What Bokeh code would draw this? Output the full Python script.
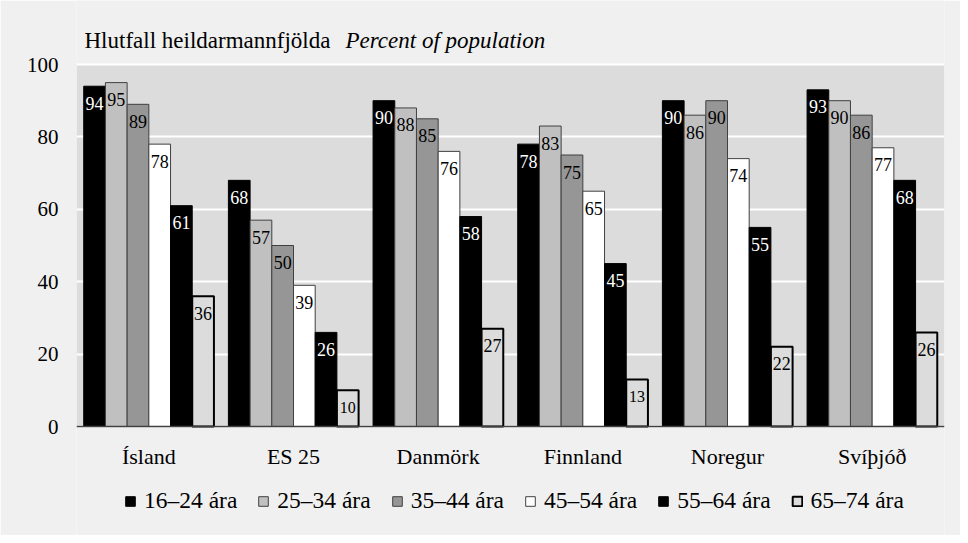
from bokeh.plotting import figure
from bokeh.models import (ColumnDataSource, FactorRange, Legend, LegendItem, Label,
                          BoxAnnotation, Range1d)
from bokeh.transform import dodge
from bokeh.core.properties import value
from bokeh.embed import file_html
from bokeh.resources import INLINE

countries = ["Ísland", "ES 25", "Danmörk", "Finnland", "Noregur", "Svíþjóð"]
groups = ["16–24 ára", "25–34 ára", "35–44 ára", "45–54 ára", "55–64 ára", "65–74 ára"]
v16_24 = [94, 68, 90, 78, 90, 93]
v25_34 = [95, 57, 88, 83, 86, 90]
v35_44 = [89, 50, 85, 75, 90, 86]
v45_54 = [78, 39, 76, 65, 74, 77]
v55_64 = [61, 26, 58, 45, 55, 68]
v65_74 = [36, 10, 27, 13, 22, 26]
series = [v16_24, v25_34, v35_44, v45_54, v55_64, v65_74]
y_ticks = [0, 20, 40, 60, 80, 100]
title_main = "Hlutfall heildarmannfjölda"
title_en = "Percent of population"

fills = ["#000000", "#c0c0c0", "#969696", "#ffffff", "#000000", "#dcdcdc"]
lines = ["#000000", "#404040", "#404040", "#404040", "#000000", "#000000"]
lwidths = [1, 1, 1, 1, 1, 2]
label_colors = ["white", "black", "black", "black", "white", "black"]

FONT = "Liberation Serif"
BG = "#f0f0f0"
PLOT_BG = "#dcdcdc"

# layout (pixels): plot area from y=64 (value 100) to y=426 (value 0) in a 535px tall figure
W, H = 960, 535
TOP_PX, ZERO_PX = 64, 426
ppu = (ZERO_PX - TOP_PX) / (y_ticks[-1] - y_ticks[0])
y_lo = y_ticks[0] - (H - ZERO_PX) / ppu
y_hi = y_ticks[-1] + TOP_PX / ppu

p = figure(x_range=FactorRange(*countries), y_range=Range1d(y_lo, y_hi),
           width=W, height=H, output_backend="svg", toolbar_location=None,
           min_border_left=76, min_border_right=16, min_border_top=0, min_border_bottom=0)
p.background_fill_color = BG
p.border_fill_color = BG
p.outline_line_color = None

# grey plot area behind grid lines
p.add_layout(BoxAnnotation(bottom=y_ticks[0], top=y_ticks[-1], fill_color=PLOT_BG,
                           fill_alpha=1, line_color=None, level="image"))

n = len(groups)
bw = 0.9 / n
items = []
for i, (g, vals) in enumerate(zip(groups, series)):
    off = -0.45 + bw * (i + 0.5)
    src = ColumnDataSource(dict(
        x=countries, top=vals, lbl=[str(v) for v in vals],
        fs=["16px" if v < 15 else "18px" for v in vals]))
    r = p.vbar(x=dodge("x", off, range=p.x_range), top="top", bottom=0, width=bw, source=src,
               fill_color=fills[i], line_color=lines[i], line_width=lwidths[i])
    p.text(x=dodge("x", off, range=p.x_range), y="top", text="lbl", source=src,
           text_align="center", text_baseline="middle", y_offset=17,
           text_font=value(FONT), text_font_size="fs", text_color=label_colors[i])
    items.append(LegendItem(label=g, renderers=[r]))

p.xgrid.grid_line_color = None
p.ygrid.grid_line_color = "white"
p.ygrid.grid_line_width = 2
p.yaxis.ticker = y_ticks
p.yaxis.axis_line_color = None
p.yaxis.major_tick_line_color = None
p.yaxis.minor_tick_line_color = None
p.yaxis.major_tick_out = 0
p.yaxis.major_tick_in = 0
p.yaxis.major_label_standoff = 18
p.yaxis.major_label_text_font_size = "21px"

p.xaxis.fixed_location = 0
p.xaxis.major_tick_line_color = None
p.xaxis.major_tick_out = 0
p.xaxis.major_tick_in = 0
p.xaxis.axis_line_color = "#404040"
p.xaxis.axis_line_width = 1.5
p.xaxis.major_label_standoff = 17
p.xaxis.major_label_text_font_size = "22px"
for ax in (p.xaxis, p.yaxis):
    ax.major_label_text_font = FONT
    ax.major_label_text_color = "black"

legend = Legend(items=items, orientation="horizontal", location=(48, 21),
                label_text_font=FONT, label_text_font_size="23.5px", label_text_color="black",
                glyph_width=12, glyph_height=12, label_standoff=8, spacing=20,
                background_fill_alpha=0, border_line_color=None, margin=0, padding=0)
p.add_layout(legend, "center")

p.add_layout(Label(x=0, y=y_ticks[-1], x_offset=8, y_offset=24, text=title_main,
                   text_font=FONT, text_font_size="23px", text_color="black",
                   text_baseline="alphabetic"))
p.add_layout(Label(x=0, y=y_ticks[-1], x_offset=269, y_offset=24, text=title_en,
                   text_font=FONT, text_font_size="23px", text_font_style="italic",
                   text_color="black", text_baseline="alphabetic"))

open("out.html", "w").write(file_html(p, INLINE))
